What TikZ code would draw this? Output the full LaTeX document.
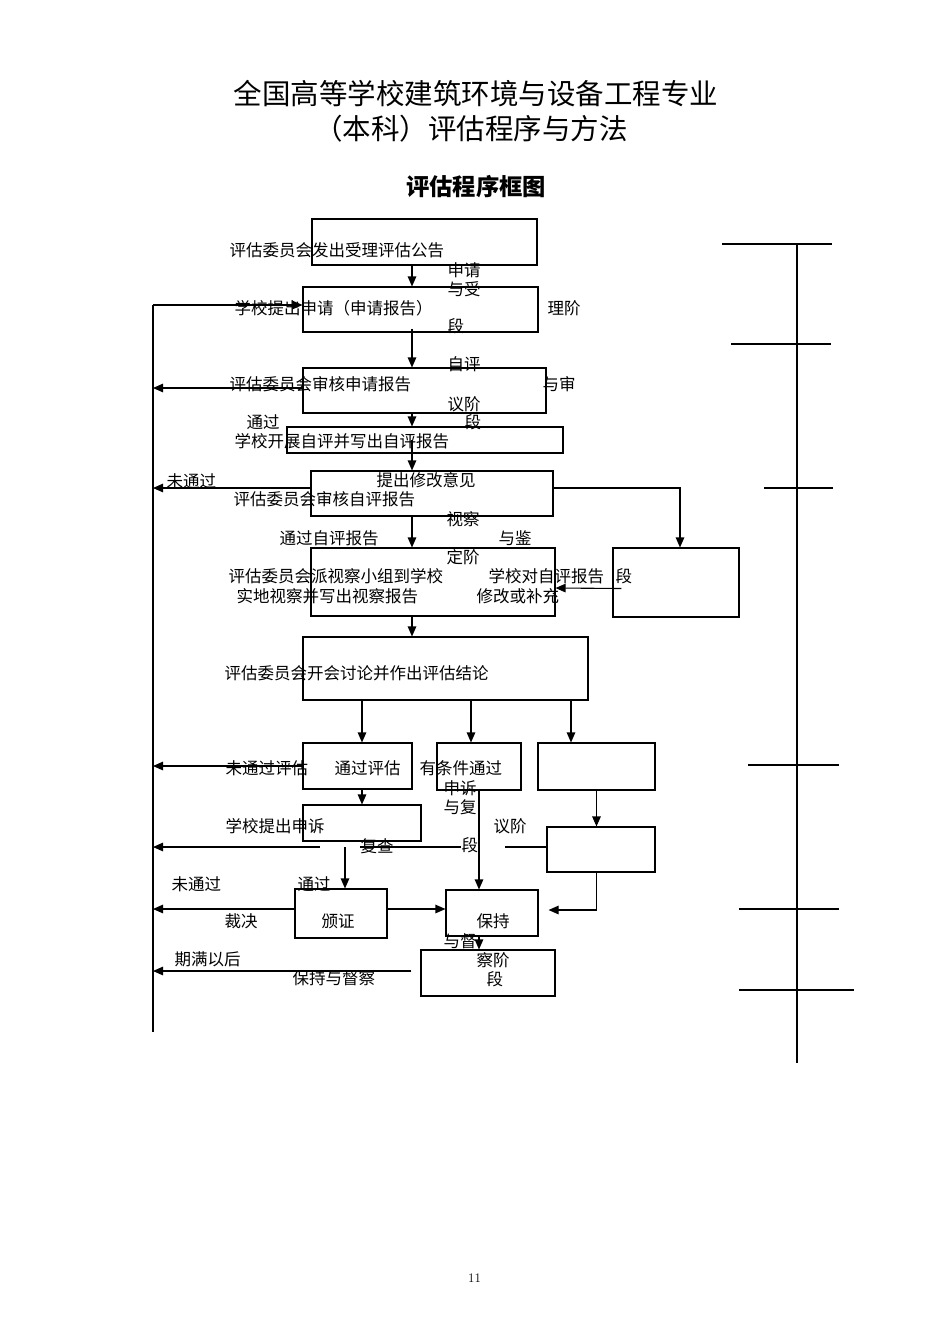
\documentclass[tikz,border=0pt]{standalone}
\usepackage{fontspec}
\newfontfamily\cjk{Noto Sans CJK SC}
\usetikzlibrary{arrows.meta,calc}

\tikzset{
  box/.style={draw,inner sep=0pt,line width=1.1pt},
  lbl/.style={anchor=west,inner sep=0pt,font=\cjk\fontsize{16.5}{19}\selectfont,
              text height=.88em,text depth=.12em,yshift=-3.5pt},
}

\begin{document}
\begin{tikzpicture}[x=1pt,y=-1pt,line width=1.1pt,>={Triangle[length=10pt,width=8.5pt]}]
%
  \useasboundingbox (0,0) rectangle (950,1344);
%
  \node[font=\cjk\fontsize{28.5}{31}\selectfont,inner sep=0pt] (title) at (476,94) {全国高等学校建筑环境与设备工程专业};
  \node[font=\cjk\fontsize{28.5}{31}\selectfont,inner sep=0pt] (subtitle) at (471,129) {（本科）评估程序与方法};
  \node[font=\cjk\bfseries\fontsize{23.3}{26}\selectfont,inner sep=0pt] (head) at (476,187) {评估程序框图};
  \node[font=\fontsize{13}{15}\selectfont,inner sep=0pt] (page) at (474.5,1278) {11};
%
  \foreach \n/\x/\y/\w/\h in {b1/424.5/242/225/46, b2/420.5/309.5/235/45, b3/424.5/390.5/243/45,
      b4/425/440/276/26, b5/432/493.5/242/45, b6/433/582/244/68, bR/676/582.5/126/69,
      b7/445.5/668.5/285/63, b8/357.5/766/109/46, b9/479/766.5/84/47, b10/596.5/766.5/117/47,
      b11/362/823/118/36, b12/601/849.5/108/45, b13/341/913.5/92/49, b14/492/913/92/46,
      b15/488/973/134/46}
    \node[box,minimum width=\w pt,minimum height=\h pt] (\n) at (\x,\y) {};
%
  \foreach \n/\x/\y/\t in {t1/229/249/评估委员会发出受理评估公告, t2/234/307/学校提出申请（申请报告）,
      s1/447/269/申请, s2/447/288/与受, s3/547/307/理阶, s4/447/325/段,
      t3/229/383/评估委员会审核申请报告, s5/447/363/自评, s6/542/383/与审, s7/447/403/议阶,
      s8/464/421/段, p1/246/421/通过, t4/234/440/学校开展自评并写出自评报告,
      u1/166/480/未通过, t5a/376/479/提出修改意见, t5/233/498/评估委员会审核自评报告,
      s9/446/518/视察, p2/279/537/通过自评报告, s10/498/537/与鉴, s11/446/556/定阶,
      t6a/228/575/评估委员会派视察小组到学校, t6b/236/595/实地视察并写出视察报告,
      t6c/488/575/学校对自评报告, t6d/476/595/修改或补充, s12/615/575/段,
      t7/224/672/评估委员会开会讨论并作出评估结论,
      u2/225/767/未通过评估, t8/334/767/通过评估, t9/419/767/有条件通过,
      s13/443/787/申诉, s14/443/806/与复, t11/225/825/学校提出申诉, s15/493/825/议阶,
      s16/461/844/段, t11b/360/845/复查, u3/171/883/未通过, p3/297/883/通过,
      t13b/224/920/裁决, t13/321/920/颁证, t14/476/920/保持, s17/443/940/与督,
      u4/174/958/期满以后, s18/476/959/察阶, s19/486/978/段, t15/292/977/保持与督察}
    \node[lbl] (\n) at (\x,\y) {\t};
%
  \coordinate (spine) at (412,0);
  \coordinate (rail) at (153,0);
  \coordinate (railtop) at (153,305);
  \coordinate (railbot) at (153,1032);
  \coordinate (appeal) at (320,847);
  \coordinate (recheck) at (345,847);
  \coordinate (review) at (505,847);
%
  \draw (railtop) -- (railbot);
  \draw[->] (railtop) -- (railtop -| b2.west);
%
  \draw[->] (b1.south -| spine) -- (b2.north -| spine);
  \draw[->] (spine |- s4) -- (b3.north -| spine);
  \draw[->] (b3.south -| spine) -- (b4.north -| spine);
  \draw[->] (spine |- b4) -- (b5.north -| spine);
  \draw[->] (b5.south -| spine) -- (b6.north -| spine);
  \draw[->] (b6.south -| spine) -- (b7.north -| spine);
%
  \draw[->] ([yshift=2.5pt]b3.west) -- ([yshift=2.5pt]b3.west -| rail);
  \draw[->] ([yshift=5.5pt]b5.west) -- ([yshift=5.5pt]b5.west -| rail);
  \draw[->] ([yshift=5.5pt]b5.east) -| ([xshift=4pt]bR.north);
  \draw[->] ([xshift=9pt,yshift=-6pt]bR.west) -- ([yshift=-6pt]b6.east);
%
  \foreach \x in {362,471,571}
    \draw[->] (\x,0 |- b7.south) -- (\x,0 |- b8.north);
%
  \draw[->] (b8.west) -- (b8.west -| rail);
  \draw[->] (b8.south -| b11.north) -- (b11.north);
  \draw[->] (appeal) -- (appeal -| rail);
  \draw ([yshift=1.5pt]t11b.west) -- ([yshift=1.5pt]t11b.west -| s16.west);
  \draw (review) -- (review -| b12.west);
  \draw[->] (recheck) -- (recheck |- b13.north);
  \draw[->] (b9.south) -- (b9.south |- b14.north);
  \draw[->] (b10.south) -- (b10.south |- b12.north);
  \draw[->] (b10.south |- b12.south) |- ([xshift=10pt,yshift=3pt]b14.east);
  \draw[->] ([yshift=4.5pt]b13.west) -- ([yshift=4.5pt]b13.west -| rail);
  \draw[->] ([yshift=4.5pt]b13.east) -- ([yshift=4.5pt]b13.east -| b14.west);
  \draw[->] (b9.south |- b14.south) -- (b9.south |- b15.north);
  \draw[->] ([xshift=-9pt,yshift=2pt]b15.west) -- ([yshift=2pt]b15.west -| rail);
%
  \draw (797,244) -- (797,1063);
  \foreach \y/\a/\b in {244/722/832, 344/731/831, 488/764/833, 765/748/839, 909/739/839, 990/739/854}
    \draw (\a,\y) -- (\b,\y);
%
\end{tikzpicture}
\end{document}
